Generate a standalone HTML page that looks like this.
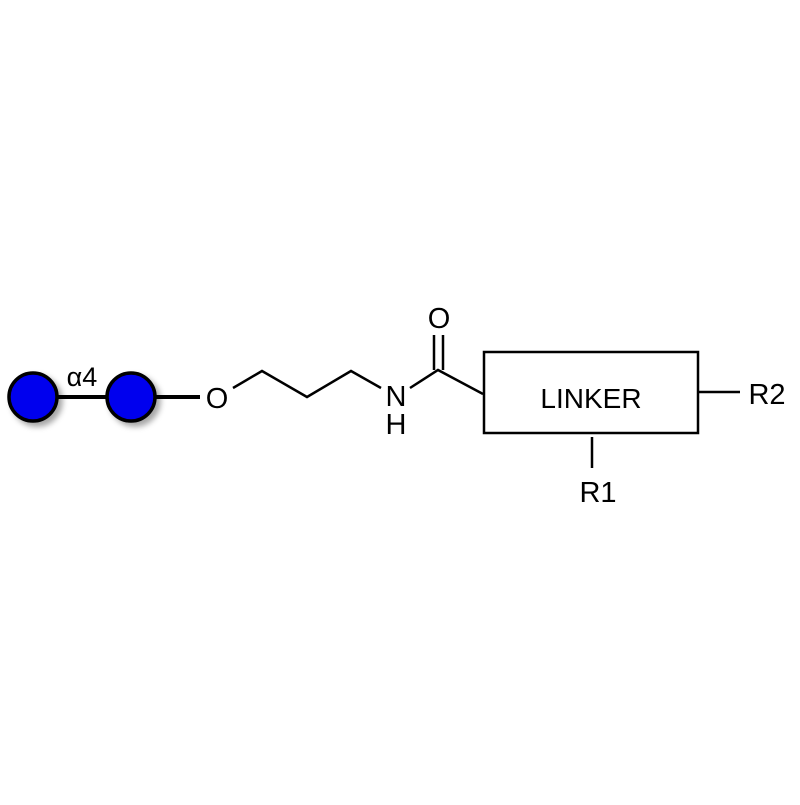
<!DOCTYPE html>
<html><head><style>body{margin:0;background:#fff}</style></head><body>
<svg width="800" height="800" viewBox="0 0 800 800" xmlns="http://www.w3.org/2000/svg">
<defs><filter id="sh" x="-50%" y="-50%" width="200%" height="200%"><feDropShadow dx="4" dy="4" stdDeviation="3" flood-color="#000" flood-opacity="0.35"/></filter></defs>
<rect width="800" height="800" fill="#fff"/>
<line x1="55" y1="397" x2="110" y2="397" stroke="#000" stroke-width="4"/>
<line x1="150" y1="397" x2="200" y2="397" stroke="#000" stroke-width="4"/>
<circle cx="33" cy="397" r="24" fill="#0000ee" stroke="#000" stroke-width="3.5" filter="url(#sh)"/>
<circle cx="131" cy="397" r="24" fill="#0000ee" stroke="#000" stroke-width="3.5" filter="url(#sh)"/>
<text x="82" y="386" font-family="Liberation Sans, sans-serif" font-size="27" text-anchor="middle">α4</text>
<g font-family="Liberation Sans, sans-serif" font-size="29" text-anchor="middle" fill="#000">
<text x="217" y="408">O</text>
<text x="396" y="406">N</text>
<text x="396" y="434">H</text>
<text x="439" y="328">O</text>
<text x="591" y="408" font-size="28">LINKER</text>
<text x="767" y="404">R2</text>
<text x="598" y="502">R1</text>
</g>
<g stroke="#000" stroke-width="2.5" fill="none">
<polyline points="233,388 262,371 307,397 351,371 381,388"/>
<polyline points="410,388 438,370 483,394"/>
<line x1="434" y1="335" x2="434" y2="370"/>
<line x1="443" y1="335" x2="443" y2="370"/>
<rect x="484" y="352" width="214" height="81"/>
<line x1="699" y1="392" x2="740" y2="392"/>
<line x1="592" y1="437" x2="592" y2="468"/>
</g>
</svg>
</body></html>
